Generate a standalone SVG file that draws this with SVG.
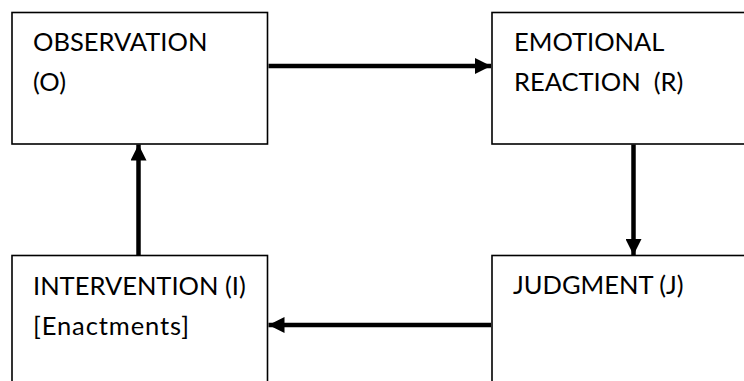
<svg xmlns="http://www.w3.org/2000/svg" width="744" height="381" viewBox="0 0 744 381">
  <style>
    .box { fill: #ffffff; stroke: #000000; stroke-width: 1.6; }
    .label { font-family: Lato, "Open Sans", "Liberation Sans", sans-serif; font-size: 25.5px; fill: #000000; }
    .link { stroke: #000000; stroke-width: 4.5; fill: none; }
  </style>
  <defs>
    <marker id="head" viewBox="0 0 16 16" refX="16" refY="8" markerWidth="16" markerHeight="16" markerUnits="userSpaceOnUse" orient="auto">
      <path d="M0,0 L16,8 L0,16 Z" fill="#000000"/>
    </marker>
  </defs>
  <rect width="744" height="381" fill="#ffffff"/>

  <g id="observation">
    <rect class="box" x="12" y="12.5" width="255.5" height="131.5"/>
    <text class="label" x="33" y="51">OBSERVATION</text>
    <text class="label" x="33" y="91">(O)</text>
  </g>

  <g id="emotional-reaction">
    <rect class="box" x="492" y="12.5" width="260" height="131.5"/>
    <text class="label" x="514" y="51">EMOTIONAL</text>
    <text class="label" x="514" y="91" xml:space="preserve">REACTION  (R)</text>
  </g>

  <g id="judgment">
    <rect class="box" x="492" y="255.5" width="260" height="140"/>
    <text class="label" x="513" y="294">JUDGMENT (J)</text>
  </g>

  <g id="intervention">
    <rect class="box" x="12" y="255.5" width="255.5" height="140"/>
    <text class="label" x="33" y="295">INTERVENTION (I)</text>
    <text class="label" x="33" y="335" textLength="156" lengthAdjust="spacing">[Enactments]</text>
  </g>

  <g id="connectors">
    <line class="link" x1="268.5" y1="66" x2="491" y2="66" marker-end="url(#head)"/>
    <line class="link" x1="633.5" y1="144.5" x2="633.5" y2="255" marker-end="url(#head)"/>
    <line class="link" x1="491" y1="325" x2="268.5" y2="325" marker-end="url(#head)"/>
    <line class="link" x1="138.5" y1="255" x2="138.5" y2="144.5" marker-end="url(#head)"/>
  </g>
</svg>
